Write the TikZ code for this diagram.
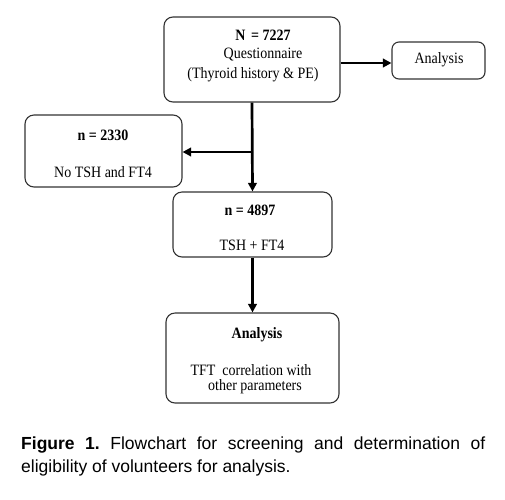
\documentclass[tikz,border=0pt]{standalone}
\usepackage{fontspec}
\usepackage{graphicx}
\setmainfont{Liberation Serif}
\newfontfamily\capfont{Liberation Sans}
\usetikzlibrary{arrows.meta}
\newcommand{\tallt}[1]{\scalebox{1}[1.13]{#1}}
\tikzset{
  box/.style={draw=black!80, line width=1.1pt, rounded corners=9pt, inner sep=0pt},
  txt/.style={inner sep=0pt, font=\fontsize{14}{16}\selectfont},
  btxt/.style={inner sep=0pt, font=\fontsize{14}{16}\selectfont\bfseries},
  arr/.style={line width=2.7pt, -{Triangle[length=8.5pt,width=8.5pt]}}
}
\begin{document}
\begin{tikzpicture}[x=1pt,y=-1pt]
\useasboundingbox (0,0) rectangle (505,499);
\fill[white] (0,0) rectangle (505,499);
% boxes
\node[box, minimum width=176pt, minimum height=85pt] (top) at (252,59.5) {};
\node[box, rounded corners=7pt, minimum width=93pt, minimum height=37pt] (ana) at (438.5,60.5) {};
\node[box, minimum width=157pt, minimum height=72pt] (left) at (103.5,151) {};
\node[box, minimum width=159pt, minimum height=65pt] (mid) at (252.5,224.5) {};
\node[box, minimum width=173pt, minimum height=90pt] (res) at (252.5,358) {};
% texts
\node[btxt] (t1) at (263,35) {\tallt{N\, = 7227}};
\node[txt] (t2) at (263,55) {\tallt{Questionnaire}};
\node[txt] (t3) at (253,75) {\tallt{(Thyroid history \& PE)}};
\node[txt] (t4) at (439,60) {\tallt{Analysis}};
\node[btxt] (t5) at (103,135) {\tallt{n = 2330}};
\node[txt] (t6) at (103,172) {\tallt{No TSH and FT4}};
\node[btxt] (t7) at (250,210) {\tallt{n = 4897}};
\node[txt] (t8) at (252,245) {\tallt{TSH + FT4}};
\node[btxt] (t9) at (257,335) {\tallt{Analysis}};
\node[txt] (t10) at (251,370) {\tallt{TFT\ \ correlation with}};
\node[txt] (t11) at (255,387) {\tallt{other parameters}};
% connectors
\coordinate (br) at (252,152);
\draw[arr] ([yshift=-3.5pt]top.east) -- ([yshift=-2.5pt]ana.west);
\draw[arr] (top.south) -- (mid.north);
\draw[arr] ([xshift=1.3pt]br) -- (left.east |- br);
\draw[arr] (mid.south) -- (res.north);
% caption
\node[inner sep=0pt, anchor=north west] (cap) at (21,437) {\parbox{464pt}{\capfont\fontsize{17.5}{23}\selectfont\frenchspacing\noindent\textbf{Figure 1.} Flowchart for screening and determination of\linebreak eligibility of volunteers for analysis.}};
\end{tikzpicture}
\end{document}
